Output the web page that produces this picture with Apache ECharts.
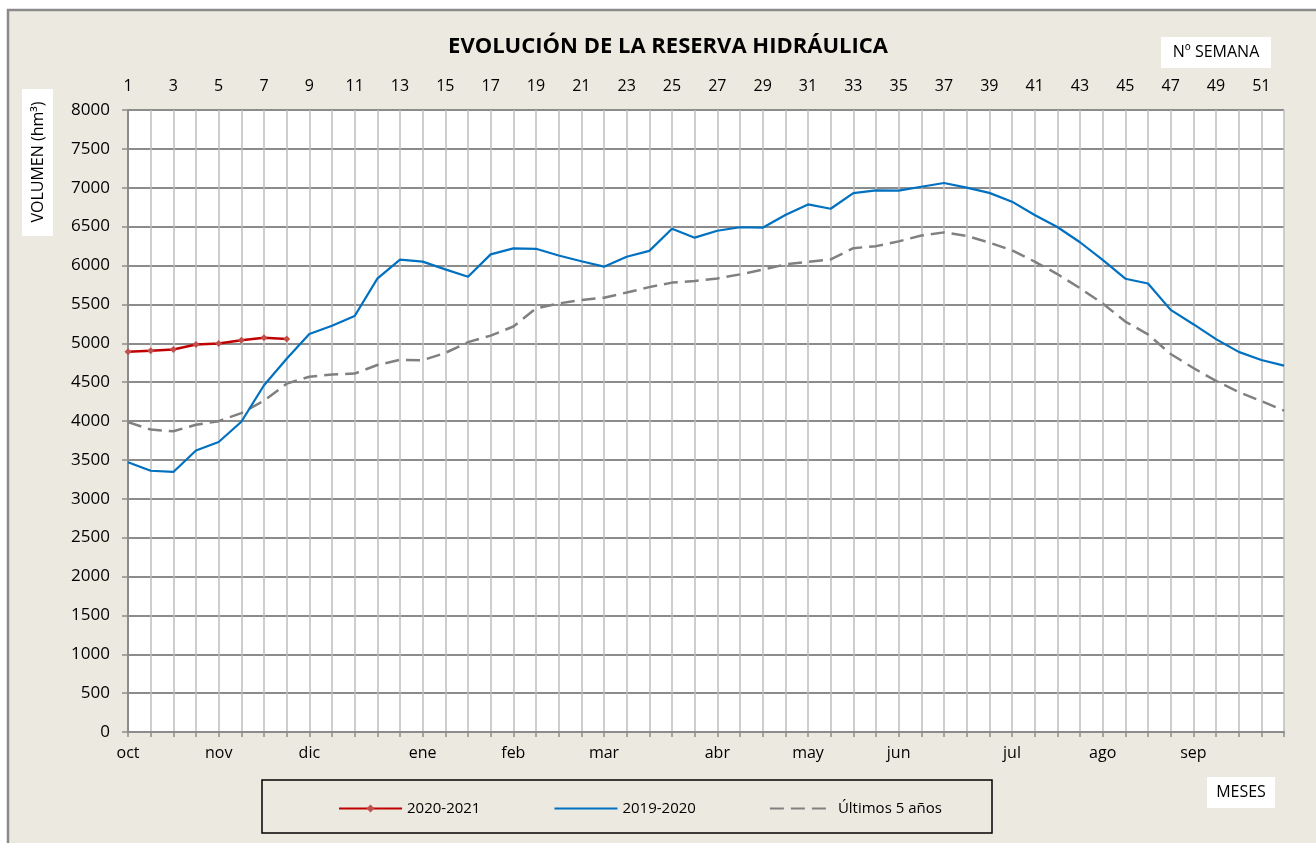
<!DOCTYPE html>
<html>
<head>
<meta charset="utf-8">
<script src="https://cdn.jsdelivr.net/npm/echarts@6/dist/echarts.min.js"></script>
<style>
html,body{margin:0;padding:0;background:#fff;}
#c{width:1316px;height:843px;}
</style>
</head>
<body>
<div id="c"></div>
<script>
// ---- data ----
const weeks = Array.from({length: 52}, (_, i) => String(i + 1));
const monthLabels = ['oct','nov','dic','ene','feb','mar','abr','may','jun','jul','ago','sep'];
const monthWeeks  = [1, 5, 9, 14, 18, 22, 27, 31, 35, 40, 44, 48];
const yTicks = { min: 0, max: 8000, step: 500 };

const s2020_2021 = [4890, 4905, 4920, 4983, 4997, 5040, 5072, 5055];

const s2019_2020 = [
  3470, 3360, 3345, 3620, 3730, 3990, 4460, 4800, 5120, 5225,
  5350, 5832, 6075, 6050, 5950, 5855, 6143, 6220, 6215, 6128,
  6055, 5985, 6112, 6188, 6472, 6358, 6447, 6492, 6486, 6650,
  6786, 6730, 6932, 6966, 6962, 7013, 7061, 7001, 6934, 6821,
  6650, 6495, 6299, 6073, 5830, 5768, 5429, 5245, 5053, 4889,
  4785, 4712
];

const sUltimos5 = [
  3985, 3890, 3868, 3952, 3998, 4102, 4261, 4480, 4570, 4597,
  4610, 4720, 4787, 4781, 4876, 5014, 5098, 5215, 5448, 5512,
  5556, 5586, 5652, 5722, 5780, 5801, 5834, 5886, 5946, 6014,
  6047, 6078, 6223, 6249, 6310, 6386, 6426, 6381, 6295, 6196,
  6050, 5890, 5708, 5512, 5279, 5114, 4862, 4682, 4515, 4374,
  4256, 4134
];

const seriesNames = ['2020-2021', '2019-2020', 'Últimos 5 años'];

// ---- build ----
const bottomCats = weeks.map(() => '');
monthWeeks.forEach((w, i) => { bottomCats[w - 1] = monthLabels[i]; });

const FONT = "'Open Sans', sans-serif";
const BG = '#ECEAE0';

const chart = echarts.init(document.getElementById('c'));
chart.setOption({
  backgroundColor: '#ffffff',
  animation: false,
  textStyle: { fontFamily: FONT, color: '#000' },
  graphic: [
    { type: 'rect', z: -10, shape: { x: 8, y: 10, width: 1330, height: 860 },
      style: { fill: BG, stroke: '#8a8a8a', lineWidth: 2.5 } },
    { type: 'text', x: 668, y: 47,
      style: { text: 'EVOLUCIÓN DE LA RESERVA HIDRÁULICA', font: "bold 22px 'Open Sans', sans-serif", fill: '#000', align: 'center', verticalAlign: 'middle' } },
    { type: 'rect', shape: { x: 1161, y: 37, width: 110, height: 31 }, style: { fill: '#fff' } },
    { type: 'text', x: 1216, y: 52, style: { text: 'Nº SEMANA', font: "16px 'Open Sans', sans-serif", fill: '#000', align: 'center', verticalAlign: 'middle' } },
    { type: 'rect', shape: { x: 1207, y: 777, width: 68, height: 31 }, style: { fill: '#fff' } },
    { type: 'text', x: 1241, y: 792, style: { text: 'MESES', font: "16px 'Open Sans', sans-serif", fill: '#000', align: 'center', verticalAlign: 'middle' } },
    { type: 'rect', shape: { x: 22, y: 89, width: 31, height: 147 }, style: { fill: '#fff' } },
    { type: 'text', x: 38, y: 162, rotation: Math.PI / 2,
      style: { text: 'VOLUMEN (hm³)', font: "16px 'Open Sans', sans-serif", fill: '#000', align: 'center', verticalAlign: 'middle' } },
    { type: 'rect', z: 50, shape: { x: 262, y: 780, width: 730, height: 53 },
      style: { fill: 'none', stroke: '#000', lineWidth: 1.5 } }
  ],
  legend: {
    left: 333, top: 796,
    itemWidth: 63, itemHeight: 10, itemGap: 73,
    textStyle: { fontFamily: FONT, fontSize: 15, color: '#000' },
    data: [
      { name: seriesNames[0] },
      { name: seriesNames[1], itemStyle: { opacity: 0 } },
      { name: seriesNames[2], itemStyle: { opacity: 0 } }
    ]
  },
  grid: { left: 128, right: 32, top: 110, bottom: 111, show: true, backgroundColor: '#fff', borderWidth: 0 },
  xAxis: [
    {
      type: 'category', position: 'top', data: weeks, boundaryGap: false,
      axisLine: { show: false }, axisTick: { show: false },
      axisLabel: { interval: 1, fontSize: 16, color: '#000', margin: 16, fontFamily: FONT },
      splitLine: { show: true, interval: 0, lineStyle: { color: '#BEBEBE', width: 1.5 } }
    },
    {
      type: 'category', position: 'bottom', data: bottomCats, boundaryGap: false,
      axisLine: { show: true, lineStyle: { color: '#8C8C8C', width: 2 } },
      axisTick: { show: true, interval: 0, length: 5, lineStyle: { color: '#8C8C8C', width: 1.5 } },
      axisLabel: { interval: 0, fontSize: 16, color: '#000', margin: 13, fontFamily: FONT },
      splitLine: { show: false }
    }
  ],
  yAxis: {
    type: 'value', min: yTicks.min, max: yTicks.max, interval: yTicks.step,
    axisLine: { show: true, lineStyle: { color: '#8C8C8C', width: 2 } },
    axisTick: { show: true, length: 6, lineStyle: { color: '#8C8C8C', width: 1.5 } },
    axisLabel: { fontSize: 17, color: '#000', margin: 18, fontFamily: FONT, formatter: v => String(v) },
    splitLine: { show: true, lineStyle: { color: '#8C8C8C', width: 2 } }
  },
  series: [
    {
      name: seriesNames[0], type: 'line', xAxisIndex: 0, data: s2020_2021,
      symbol: 'diamond', symbolSize: 7, showSymbol: true, z: 5,
      lineStyle: { color: '#C00000', width: 2.5 },
      itemStyle: { color: '#C0504D', borderWidth: 0 }
    },
    {
      name: seriesNames[1], type: 'line', xAxisIndex: 0, data: s2019_2020,
      symbol: 'none', z: 4,
      lineStyle: { color: '#0070C0', width: 2.2 },
      itemStyle: { color: '#0070C0' }
    },
    {
      name: seriesNames[2], type: 'line', xAxisIndex: 0, data: sUltimos5,
      symbol: 'none', z: 3,
      lineStyle: { color: '#808080', width: 2.5, type: [14, 7] },
      itemStyle: { color: '#808080' }
    }
  ]
});
</script>
</body>
</html>
